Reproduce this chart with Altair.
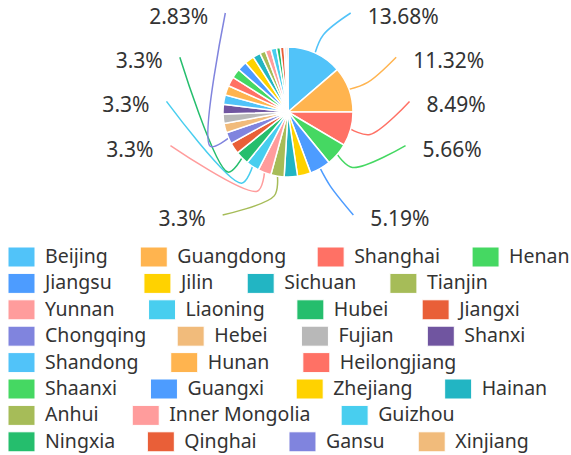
import math
import altair as alt
import pandas as pd

# ---------------- data ----------------
names = ["Beijing", "Guangdong", "Shanghai", "Henan", "Jiangsu", "Jilin", "Sichuan",
         "Tianjin", "Yunnan", "Liaoning", "Hubei", "Jiangxi", "Chongqing", "Hebei",
         "Fujian", "Shanxi", "Shandong", "Hunan", "Heilongjiang", "Shaanxi", "Guangxi",
         "Zhejiang", "Hainan", "Anhui", "Inner Mongolia", "Guizhou", "Ningxia",
         "Qinghai", "Gansu", "Xinjiang"]
values = [29, 24, 18, 12, 11, 7, 7, 7, 7, 7, 7, 6, 6, 5, 5, 5, 5, 5, 5, 5, 5, 5,
          4, 3, 3, 3, 2, 2, 1, 1]
palette = ["#51C3F9", "#FFB44F", "#FF7165", "#45D862", "#4D9CFF", "#FFD200",
           "#22B5C3", "#A6BC58", "#FF9C9C", "#48CEEF", "#25BE6D", "#E95F38",
           "#8084DE", "#F1BB7B", "#B8B8B8", "#7055A0"]
labeled = ["Beijing", "Guangdong", "Shanghai", "Henan", "Jiangsu",
           "Tianjin", "Yunnan", "Liaoning", "Hubei", "Chongqing"]

# ---------------- layout ----------------
W, H = 571, 455
CX, CY, R = 288, 112, 65
LEN1 = 20
ELL_A, ELL_B_TOP, ELL_B_BOT, LEN2 = 102, 109, 115, 20
TEXT_GAP = 17
ROW_TOP, ROW_PITCH, ROW_BOTTOM = 18, 44.2, 220
LINE_DY = -5
LABEL_FONT = 21
LEG_FONT = 19.5
LEG_X0, LEG_Y0, LEG_PITCH = 8, 257, 26.4
SW_W, SW_H, SW_GAP, ITEM_GAP = 27, 20, 10, 34
FONT = "Noto Sans"
TXT = "#333333"

total = sum(values)
colors = [palette[i % len(palette)] for i in range(len(names))]
pie = pd.DataFrame({"name": names, "value": values, "color": colors,
                    "idx": list(range(len(names)))})

mids = []
cum = 0
for v in values:
    mids.append((cum + v / 2) / total * 2 * math.pi)
    cum += v


def pct(v):
    return f"{round(v / total * 100, 2):g}%"


items = []
for i, n in enumerate(names):
    if n in labeled:
        a = mids[i]
        side = 1 if math.sin(a) > 0 else -1
        items.append(dict(i=i, a=a, side=side, nat=CY - (R + LEN1) * math.cos(a)))

for side in (1, -1):
    grp = sorted([it for it in items if it["side"] == side], key=lambda d: d["nat"])
    for k, it in enumerate(grp):
        it["ty"] = ROW_BOTTOM if k == len(grp) - 1 else ROW_TOP + k * ROW_PITCH

line_rows, text_rows = [], []
for it in items:
    i, a, side = it["i"], it["a"], it["side"]
    p0 = (CX + R * math.sin(a), CY - R * math.cos(a))
    p1 = (CX + (R + LEN1) * math.sin(a), CY - (R + LEN1) * math.cos(a))
    ly = it["ty"] + LINE_DY
    dy = ly - CY
    rb = ELL_B_TOP if dy < 0 else ELL_B_BOT
    ex = LEN2 + ELL_A * math.sqrt(max(0.0, 1 - dy * dy / (rb * rb)))
    p2 = (CX + side * ex, ly)
    for k, p in enumerate((p0, p1, p2)):
        line_rows.append(dict(lid=i, ord=k, px=p[0], py=p[1], color=colors[i]))
    text_rows.append(dict(px=p2[0] + side * TEXT_GAP, py=it["ty"], label=pct(values[i]),
                          side="right" if side > 0 else "left"))
lines = pd.DataFrame(line_rows)
texts = pd.DataFrame(text_rows)

# legend flow layout (approximate glyph advance widths, em units)
CHAR_W = {" ": .26, "A": .633, "B": .648, "C": .631, "F": .516, "G": .728, "H": .738,
          "I": .279, "J": .267, "L": .519, "M": .903, "N": .754, "Q": .779, "S": .549,
          "T": .553, "X": .575, "Y": .559, "Z": .568, "a": .556, "b": .613, "c": .476,
          "d": .613, "e": .561, "g": .546, "h": .613, "i": .258, "j": .258, "l": .258,
          "n": .613, "o": .602, "q": .613, "r": .408, "s": .477, "u": .613, "x": .519,
          "z": .468}


def tw(s):
    return sum(CHAR_W.get(c, .6) for c in s) * LEG_FONT


leg_rows = []
x, row = LEG_X0, 0
for n, c in zip(names, colors):
    w = tw(n)
    if x + SW_W + SW_GAP + w > W and x > LEG_X0:
        x, row = LEG_X0, row + 1
    yc = LEG_Y0 + row * LEG_PITCH
    leg_rows.append(dict(name=n, color=c, x0=x, x1=x + SW_W, y0=yc - SW_H / 2,
                         y1=yc + SW_H / 2, tx=x + SW_W + SW_GAP, yc=yc))
    x += SW_W + SW_GAP + w + ITEM_GAP
leg = pd.DataFrame(leg_rows)

xs = alt.Scale(domain=[0, W], nice=False, zero=False)
ys = alt.Scale(domain=[0, H], nice=False, zero=False, reverse=True)

arc = alt.Chart(pie).mark_arc(outerRadius=R, stroke="white", strokeWidth=1.5).encode(
    theta=alt.Theta("value:Q", stack=True),
    order=alt.Order("idx:Q"),
    color=alt.Color("color:N", scale=None),
    detail="name:N",
    x=alt.value(CX), y=alt.value(CY),
)

guide = alt.Chart(lines).mark_line(interpolate="catmull-rom", strokeWidth=1.5).encode(
    x=alt.X("px:Q", scale=xs, axis=None),
    y=alt.Y("py:Q", scale=ys, axis=None),
    detail="lid:N",
    order="ord:Q",
    color=alt.Color("color:N", scale=None),
)

lab_r = alt.Chart(texts).transform_filter(alt.datum.side == "right").mark_text(
    align="left", baseline="middle", font=FONT, fontSize=LABEL_FONT, color=TXT
).encode(x=alt.X("px:Q", scale=xs, axis=None), y=alt.Y("py:Q", scale=ys, axis=None),
         text="label:N")
lab_l = alt.Chart(texts).transform_filter(alt.datum.side == "left").mark_text(
    align="right", baseline="middle", font=FONT, fontSize=LABEL_FONT, color=TXT
).encode(x=alt.X("px:Q", scale=xs, axis=None), y=alt.Y("py:Q", scale=ys, axis=None),
         text="label:N")

sw = alt.Chart(leg).mark_rect(stroke="white", strokeWidth=1).encode(
    x=alt.X("x0:Q", scale=xs, axis=None), x2="x1:Q",
    y=alt.Y("y0:Q", scale=ys, axis=None), y2="y1:Q",
    color=alt.Color("color:N", scale=None),
)
lt = alt.Chart(leg).mark_text(align="left", baseline="middle", font=FONT,
                              fontSize=LEG_FONT, color=TXT).encode(
    x=alt.X("tx:Q", scale=xs, axis=None), y=alt.Y("yc:Q", scale=ys, axis=None),
    text="name:N",
)

chart = alt.layer(guide, arc, lab_r, lab_l, sw, lt).properties(
    width=W, height=H, padding=0, autosize=alt.AutoSizeParams(type="none"),
    background="white",
).configure_view(stroke=None)

chart.save("out.html", embed_options={"renderer": "svg", "actions": False})
